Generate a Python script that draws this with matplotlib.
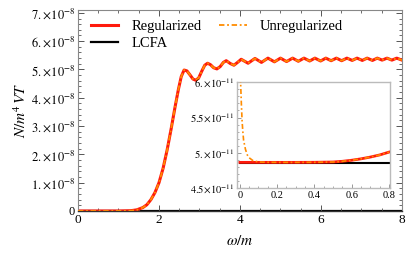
import matplotlib
matplotlib.use("Agg")
import matplotlib.pyplot as plt
from matplotlib.ticker import MultipleLocator, FixedLocator

# datos (N/m^4VT en unidades de 1e-8 para el principal)
omega = [0, 1.0, 1.3, 1.45, 1.6, 1.7, 1.8, 1.9, 2.0, 2.1, 2.2, 2.3, 2.4, 2.48,
         2.55, 2.62, 2.69, 2.77, 2.84, 2.91, 2.98, 3.06, 3.13, 3.20, 3.27,
         3.35, 3.43, 3.51, 3.59, 3.66, 3.76, 3.85, 3.94, 4.03, 4.20, 4.37,
         4.53, 4.69, 4.85, 5.00, 5.15, 5.30, 5.44, 5.58, 5.72, 5.85, 5.99,
         6.12, 6.25, 6.38, 6.51, 6.64, 6.77, 6.89, 7.02, 7.14, 7.27, 7.39,
         7.51, 7.63, 7.75, 7.87, 8.0]
n_reg = [0, 0, 0.01, 0.04, 0.12, 0.22, 0.4, 0.65, 1.0, 1.5, 2.15, 2.9, 3.7, 4.3,
         4.75, 4.98, 4.95, 4.8, 4.66, 4.62, 4.7, 4.95, 5.15, 5.22, 5.17,
         5.06, 5.02, 5.1, 5.25, 5.31, 5.21, 5.15, 5.25, 5.36, 5.22, 5.39,
         5.25, 5.40, 5.27, 5.40, 5.28, 5.40, 5.29, 5.40, 5.30, 5.40, 5.30,
         5.40, 5.31, 5.40, 5.31, 5.40, 5.32, 5.40, 5.32, 5.40, 5.32, 5.40,
         5.33, 5.40, 5.33, 5.40, 5.33]

# inset (unidades de 1e-11)
omega_in = [0, 0.1, 0.2, 0.3, 0.4, 0.5, 0.55, 0.6, 0.65, 0.7, 0.75, 0.8]
n_reg_in = [4.865, 4.865, 4.865, 4.865, 4.866, 4.87, 4.88, 4.895, 4.915,
            4.94, 4.97, 5.01]
omega_unreg_in = [0.0, 0.004, 0.008, 0.012, 0.016, 0.02, 0.03, 0.04, 0.05,
                  0.07, 0.1, 0.15, 0.2, 0.3, 0.4, 0.5, 0.55, 0.6, 0.65, 0.7,
                  0.75, 0.8]
n_unreg_in = [6.4, 6.0, 5.7, 5.45, 5.3, 5.18, 5.05, 4.97, 4.93, 4.89, 4.87,
              4.866, 4.865, 4.865, 4.866, 4.87, 4.88, 4.895, 4.915, 4.94,
              4.97, 5.01]
lcfa = 4.85

ytick_vals = [0, 1, 2, 3, 4, 5, 6, 7]
ytick_labels = ["0"] + [r"$%d.\!\times\!10^{-8}$" % v for v in range(1, 8)]
xtick_vals = [0, 2, 4, 6, 8]
ytick_in_vals = [4.5, 5.0, 5.5, 6.0]
ytick_in_labels = [r"$4.5\!\times\!10^{-11}$", r"$5.\!\times\!10^{-11}$",
                   r"$5.5\!\times\!10^{-11}$", r"$6.\!\times\!10^{-11}$"]
xtick_in_vals = [0, 0.2, 0.4, 0.6, 0.8]
xtick_in_labels = ["0", "0.2", "0.4", "0.6", "0.8"]

plt.rcParams["font.family"] = "serif"
plt.rcParams["font.serif"] = ["Liberation Serif", "DejaVu Serif"]
plt.rcParams["mathtext.fontset"] = "stix"

ROJO = "#ff1a0d"
NARANJA = "#ff8c00"

fig = plt.figure(figsize=(4.07, 2.57), dpi=100)
ax = fig.add_axes([0.1916, 0.179, 0.7961, 0.782])

ax.plot(omega, [lcfa * 1e-3 for _ in omega], color="black", lw=1.6, zorder=1,
        label="LCFA")
ax.plot(omega, n_reg, color=ROJO, lw=2.2, zorder=2, label="Regularized",
        solid_joinstyle="round")
ax.plot(omega, n_reg, color=NARANJA, lw=1.3, ls=(0, (3, 1.5, 1, 1.5)), zorder=3,
        label="Unregularized")

ax.set_xlim(0, 8)
ax.set_ylim(0, 7.1)
ax.yaxis.set_major_locator(FixedLocator(ytick_vals))
ax.set_yticklabels(ytick_labels, fontsize=9)
ax.yaxis.set_minor_locator(MultipleLocator(0.2))
ax.xaxis.set_major_locator(FixedLocator(xtick_vals))
ax.set_xticklabels([str(v) for v in xtick_vals], fontsize=9.5)
ax.xaxis.set_minor_locator(MultipleLocator(0.5))
ax.tick_params(which="both", direction="in", top=True, right=True,
               color="#555555", pad=2)
ax.tick_params(which="major", length=4, width=0.7)
ax.tick_params(which="minor", length=2, width=0.6)
for lado in ["top", "right", "left"]:
    ax.spines[lado].set_color("#888888")
ax.spines["bottom"].set_color("#333333")
ax.spines["bottom"].set_linewidth(1.0)

ax.set_xlabel(r"$\omega/m$", fontsize=11, labelpad=6)
ax.set_ylabel(r"$N/m^4\,VT$", fontsize=11, labelpad=1)

h, l = ax.get_legend_handles_labels()
orden = [1, 0, 2]
ax.legend([h[i] for i in orden], [l[i] for i in orden], ncol=2, frameon=False,
          loc="upper left", bbox_to_anchor=(0.205, 0.952),
          bbox_transform=fig.transFigure, fontsize=10.5, handlelength=1.9,
          handletextpad=0.9, columnspacing=1.2, labelspacing=0.3, borderpad=0)

# inset
axi = fig.add_axes([0.582, 0.268, 0.376, 0.412])
axi.plot([0, 0.8], [lcfa, lcfa], color="black", lw=1.5, zorder=1)
axi.plot(omega_in, n_reg_in, color=ROJO, lw=2.0, zorder=2)
axi.plot(omega_unreg_in, n_unreg_in, color=NARANJA, lw=1.2,
         ls=(0, (3, 1.5, 1, 1.5)), zorder=3)
axi.set_xlim(-0.016, 0.805)
axi.set_ylim(4.5, 6.0)
axi.xaxis.set_major_locator(FixedLocator(xtick_in_vals))
axi.set_xticklabels(xtick_in_labels, fontsize=7.5)
axi.xaxis.set_minor_locator(MultipleLocator(0.05))
axi.yaxis.set_major_locator(FixedLocator(ytick_in_vals))
axi.set_yticklabels(ytick_in_labels, fontsize=7.5)
axi.yaxis.set_minor_locator(MultipleLocator(0.1))
axi.tick_params(which="both", direction="in", color="#888888", pad=2)
axi.tick_params(which="major", length=3, width=0.6)
axi.tick_params(which="minor", length=1.5, width=0.5)
for lado in axi.spines.values():
    lado.set_color("#bbbbbb")
    lado.set_linewidth(1.0)

fig.savefig("out.png", dpi=100)
